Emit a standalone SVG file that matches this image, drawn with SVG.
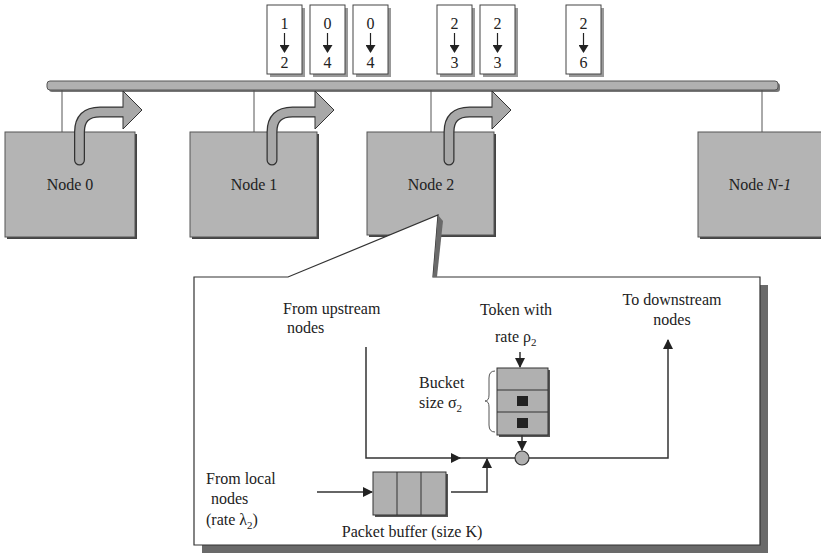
<svg xmlns="http://www.w3.org/2000/svg" width="821" height="554" viewBox="0 0 821 554">
<style>
text{font-family:"Liberation Serif","Times New Roman",serif;font-size:16px;fill:#222}
.node{fill:#b4b4b4;stroke:#555;stroke-width:1}
.shd{fill:#444}
.pkt{fill:#fff;stroke:#444;stroke-width:1}
.pshd{fill:#999}
.ln{stroke:#333;stroke-width:1.5;fill:none}
.thin{stroke:#555;stroke-width:1;fill:none}
.gr{fill:#b0b0b0;stroke:#333;stroke-width:1}
</style>
<defs>
<marker id="ah" markerWidth="10" markerHeight="10" refX="9" refY="5" orient="auto" markerUnits="userSpaceOnUse">
<path d="M0,0 L10,5 L0,10 Z" fill="#222"/>
</marker>
<marker id="ahs" markerWidth="8" markerHeight="10" refX="7" refY="5" orient="auto" markerUnits="userSpaceOnUse">
<path d="M0,0 L8,5 L0,10 Z" fill="#222"/>
</marker>
</defs>

<!-- bus -->
<g id="bus">
<rect x="49" y="83" width="731" height="9" rx="3" fill="#777"/>
<rect x="47" y="81" width="731" height="9" rx="3" fill="#b0b0b0" stroke="#555" stroke-width="1"/>
</g>

<!-- packets -->
<g id="packets">
<g id="p1"><rect class="pshd" x="270" y="8" width="35" height="69"/><rect class="pkt" x="267" y="5" width="35" height="69"/>
<text x="284.5" y="29" text-anchor="middle">1</text><line x1="284.5" y1="33" x2="284.5" y2="52" stroke="#222" stroke-width="1.2" marker-end="url(#ahs)"/><text x="284.5" y="68" text-anchor="middle">2</text></g>
<g id="p2"><rect class="pshd" x="313" y="8" width="35" height="69"/><rect class="pkt" x="310" y="5" width="35" height="69"/>
<text x="327.5" y="29" text-anchor="middle">0</text><line x1="327.5" y1="33" x2="327.5" y2="52" stroke="#222" stroke-width="1.2" marker-end="url(#ahs)"/><text x="327.5" y="68" text-anchor="middle">4</text></g>
<g id="p3"><rect class="pshd" x="356" y="8" width="35" height="69"/><rect class="pkt" x="353" y="5" width="35" height="69"/>
<text x="370.5" y="29" text-anchor="middle">0</text><line x1="370.5" y1="33" x2="370.5" y2="52" stroke="#222" stroke-width="1.2" marker-end="url(#ahs)"/><text x="370.5" y="68" text-anchor="middle">4</text></g>
<g id="p4"><rect class="pshd" x="440" y="8" width="35" height="69"/><rect class="pkt" x="437" y="5" width="35" height="69"/>
<text x="454.5" y="29" text-anchor="middle">2</text><line x1="454.5" y1="33" x2="454.5" y2="52" stroke="#222" stroke-width="1.2" marker-end="url(#ahs)"/><text x="454.5" y="68" text-anchor="middle">3</text></g>
<g id="p5"><rect class="pshd" x="483" y="8" width="35" height="69"/><rect class="pkt" x="480" y="5" width="35" height="69"/>
<text x="497.5" y="29" text-anchor="middle">2</text><line x1="497.5" y1="33" x2="497.5" y2="52" stroke="#222" stroke-width="1.2" marker-end="url(#ahs)"/><text x="497.5" y="68" text-anchor="middle">3</text></g>
<g id="p6"><rect class="pshd" x="569" y="8" width="35" height="69"/><rect class="pkt" x="566" y="5" width="35" height="69"/>
<text x="583.5" y="29" text-anchor="middle">2</text><line x1="583.5" y1="33" x2="583.5" y2="52" stroke="#222" stroke-width="1.2" marker-end="url(#ahs)"/><text x="583.5" y="68" text-anchor="middle">6</text></g>
</g>

<!-- connectors bus to nodes -->
<g id="connectors">
<line class="thin" x1="62" y1="90" x2="62" y2="132"/>
<line class="thin" x1="254" y1="90" x2="254" y2="132"/>
<line class="thin" x1="431" y1="90" x2="431" y2="132"/>
<line class="thin" x1="762" y1="90" x2="762" y2="132"/>
</g>

<!-- nodes -->
<g id="node0">
<rect class="shd" x="7" y="134" width="130" height="105"/>
<rect class="node" x="5" y="132" width="130" height="105"/>
<text x="70" y="190" text-anchor="middle">Node 0</text>
</g>
<g id="node1">
<rect class="shd" x="192" y="134" width="127" height="105"/>
<rect class="node" x="190" y="132" width="127" height="105"/>
<text x="254" y="190" text-anchor="middle">Node 1</text>
</g>
<g id="node2">
<rect class="shd" x="369" y="134" width="127" height="103"/>
<rect class="node" x="367" y="132" width="127" height="103"/>
<text x="431" y="190" text-anchor="middle">Node 2</text>
</g>
<g id="nodeN">
<rect class="shd" x="700" y="134" width="125" height="105"/>
<rect class="node" x="698" y="132" width="125" height="105"/>
<text x="760" y="190" text-anchor="middle">Node <tspan font-style="italic">N-1</tspan></text>
</g>

<!-- transmit arrows -->
<g id="tx-arrows">
<g>
<path d="M79.5,160 V132 Q79.5,112 100,112 H124" fill="none" stroke="#333" stroke-width="11" stroke-linecap="round"/>
<polygon points="123,91 142,110 123,129" fill="#a8a8a8" stroke="#333" stroke-width="1"/>
<path d="M79.5,160 V132 Q79.5,112 100,112 H126" fill="none" stroke="#a8a8a8" stroke-width="8.5" stroke-linecap="round"/>
</g>
<g>
<path d="M272,160 V132 Q272,112 292.5,112 H316" fill="none" stroke="#333" stroke-width="11" stroke-linecap="round"/>
<polygon points="315,91 334,110 315,129" fill="#a8a8a8" stroke="#333" stroke-width="1"/>
<path d="M272,160 V132 Q272,112 292.5,112 H318" fill="none" stroke="#a8a8a8" stroke-width="8.5" stroke-linecap="round"/>
</g>
<g>
<path d="M449,160 V132 Q449,112 469.5,112 H493" fill="none" stroke="#333" stroke-width="11" stroke-linecap="round"/>
<polygon points="492,91 511,110 492,129" fill="#a8a8a8" stroke="#333" stroke-width="1"/>
<path d="M449,160 V132 Q449,112 469.5,112 H495" fill="none" stroke="#a8a8a8" stroke-width="8.5" stroke-linecap="round"/>
</g>
</g>

<!-- detail panel -->
<g id="detail">
<rect x="760" y="285" width="8" height="268" fill="#6a6a6a"/>
<rect x="202" y="545" width="566" height="8" fill="#6a6a6a"/>
<polygon points="194,277 288,277 438,215 433,277 760,277 760,545 194,545" fill="#fff" stroke="#333" stroke-width="1.2"/>
<polygon points="438,215 443,221 437,277 433,277" fill="#6a6a6a"/>

<text x="283" y="314">From upstream</text>
<text x="287" y="333">nodes</text>
<text x="516" y="315" text-anchor="middle">Token with</text>
<text x="495" y="342">rate ρ<tspan font-size="11" dy="4">2</tspan></text>
<text x="672" y="305" text-anchor="middle">To downstream</text>
<text x="672" y="325" text-anchor="middle">nodes</text>
<text x="419" y="388">Bucket</text>
<text x="419" y="408">size σ<tspan font-size="11" dy="4">2</tspan></text>
<text x="206" y="484">From local</text>
<text x="211" y="504">nodes</text>
<text x="206" y="525">(rate λ<tspan font-size="11" dy="4">2</tspan><tspan dy="-4">)</tspan></text>
<text x="412" y="537" text-anchor="middle">Packet buffer (size K)</text>
</g>

<g id="bucket">
<rect x="499" y="370" width="51" height="67" fill="#555"/>
<rect x="497" y="368" width="51" height="67" class="gr"/>
<line x1="497" y1="390" x2="548" y2="390" stroke="#333" stroke-width="1"/>
<line x1="497" y1="412" x2="548" y2="412" stroke="#333" stroke-width="1"/>
<rect x="517" y="396" width="11" height="10" fill="#222"/>
<rect x="517" y="418" width="11" height="10" fill="#222"/>
<path d="M495,371 Q489,371 489,378 V395 Q489,401 485,401 Q489,401 489,407 V425 Q489,432 495,432" fill="none" stroke="#555" stroke-width="1"/>
</g>

<g id="buffer">
<rect x="375" y="474" width="73" height="43" fill="#555"/>
<rect x="373" y="472" width="73" height="43" class="gr"/>
<line x1="397" y1="472" x2="397" y2="515" stroke="#333" stroke-width="1"/>
<line x1="421" y1="472" x2="421" y2="515" stroke="#333" stroke-width="1"/>
</g>

<g id="gate">
<circle cx="522" cy="458" r="7" fill="#b0b0b0" stroke="#333" stroke-width="1.2"/>
</g>

<g id="flow-connectors">
<line class="ln" x1="520" y1="352" x2="520" y2="367" marker-end="url(#ah)"/>
<line class="ln" x1="522" y1="435" x2="522" y2="450" marker-end="url(#ah)"/>
<path class="ln" d="M366,347 V458 H460" marker-end="url(#ah)"/>
<line class="ln" x1="458" y1="458" x2="515" y2="458"/>
<line class="ln" x1="317" y1="492" x2="372" y2="492" marker-end="url(#ah)"/>
<path class="ln" d="M451,492 H487 V459" marker-end="url(#ah)"/>
<path class="ln" d="M529,458 H668 V340" marker-end="url(#ah)"/>
</g>
</svg>
